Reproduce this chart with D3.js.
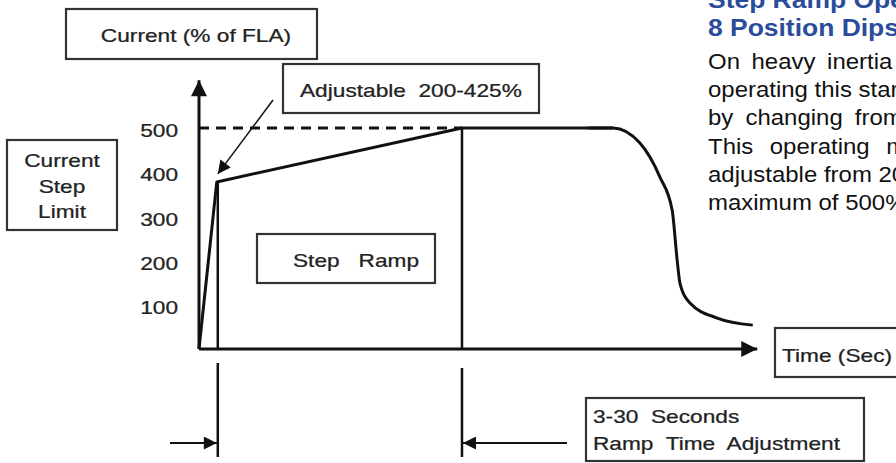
<!DOCTYPE html>
<meta charset="utf-8">
<script src="https://d3js.org/d3.v7.min.js"></script>
<style>
  body { margin: 0; background: #fff; }
  text { font-family: "Liberation Sans", Arial, sans-serif; white-space: pre; }
</style>
<div id="chart"></div>
<script>
// current profile, time in % of the plotted span, current in % of FLA
const riseTime = [0, 3.2, 47.3, 74.5];
const riseCurrent = [0, 378, 500, 500];
const decayTime = [70, 74.5, 79.3, 82.9, 85.1, 86.0, 86.5, 88.3, 93.2, 99.6];
const decayCurrent = [500, 500, 466, 389, 314, 201, 149, 104, 70, 54];
const yTicks = [100, 200, 300, 400, 500];
const stepTime = 3.2, rampEnd = 47.3, limitValue = 500;

const bodyLines = [
  "On heavy inertia",
  "operating this starter in Step Ramp",
  "by changing from the standard",
  "This operating mode is",
  "adjustable from 200 to 425%",
  "maximum of 500%"
];
const bodySpacing = [4.5, 0, 5, 9, 0, 0];

const W = 896, H = 463;
const svg = d3.select("#chart").append("svg")
  .attr("width", W).attr("height", H);

const x = d3.scaleLinear().domain([0, 100]).range([199, 755]);
const y = d3.scaleLinear().domain([0, 500]).range([349, 128]);

const sx = 1.26; // chart lettering is drawn wide
const ink = "#111";

const defs = svg.append("defs");
defs.append("marker").attr("id", "head")
  .attr("viewBox", "0 0 10 10").attr("refX", 10).attr("refY", 5)
  .attr("markerWidth", 20).attr("markerHeight", 16)
  .attr("markerUnits", "userSpaceOnUse").attr("orient", "auto")
  .append("path").attr("d", "M0,0L10,5L0,10Z").attr("fill", ink);
defs.append("marker").attr("id", "small")
  .attr("viewBox", "0 0 10 10").attr("refX", 10).attr("refY", 5)
  .attr("markerWidth", 16).attr("markerHeight", 13)
  .attr("markerUnits", "userSpaceOnUse").attr("orient", "auto")
  .append("path").attr("d", "M0,0L10,5L0,10Z").attr("fill", ink);

function label(px, py, str, anchor) {
  return svg.append("text")
    .attr("transform", `translate(${px},${py}) scale(${sx},1)`)
    .attr("text-anchor", anchor || "start")
    .style("font-size", "18px").attr("fill", "#222")
    .attr("stroke", "#222").attr("stroke-width", 0.25)
    .text(str);
}
function box(x0, y0, x1, y1) {
  svg.append("rect").attr("x", x0).attr("y", y0)
    .attr("width", x1 - x0).attr("height", y1 - y0)
    .attr("fill", "#fff").attr("stroke", "#333").attr("stroke-width", 2.2);
}

// axes with arrow heads
svg.append("line")
  .attr("x1", x(0)).attr("y1", y(0)).attr("x2", x(0)).attr("y2", y(608))
  .attr("stroke", ink).attr("stroke-width", 3).attr("marker-end", "url(#head)");
svg.append("line")
  .attr("x1", x(0)).attr("y1", y(0)).attr("x2", x(100.4)).attr("y2", y(0))
  .attr("stroke", ink).attr("stroke-width", 3).attr("marker-end", "url(#head)");

// y tick labels
const yAxis = svg.append("g").attr("transform", `translate(${x(0)},0)`)
  .call(d3.axisLeft(y).tickValues(yTicks).tickSize(0));
yAxis.select(".domain").remove();
yAxis.selectAll("text")
  .attr("x", 0).attr("dy", "0.48em")
  .attr("transform", `translate(-21,0) scale(${sx},1)`)
  .style("font-size", "18px").style("font-family", "Liberation Sans, Arial, sans-serif")
  .attr("fill", "#222").attr("stroke", "#222").attr("stroke-width", 0.25);

// dashed limit line
svg.append("line")
  .attr("x1", x(0)).attr("x2", x(rampEnd)).attr("y1", y(limitValue)).attr("y2", y(limitValue))
  .attr("stroke", ink).attr("stroke-width", 3).attr("stroke-dasharray", "10,7");

// step and ramp-end verticals
svg.append("line")
  .attr("x1", x(stepTime) + 1).attr("x2", x(stepTime) + 1).attr("y1", y(0)).attr("y2", y(riseCurrent[1]))
  .attr("stroke", ink).attr("stroke-width", 2.5);
svg.append("line")
  .attr("x1", x(rampEnd)).attr("x2", x(rampEnd)).attr("y1", y(0)).attr("y2", y(limitValue))
  .attr("stroke", ink).attr("stroke-width", 2.5);

// current curve
svg.append("path")
  .datum(riseTime.map((t, i) => [t, riseCurrent[i]]))
  .attr("d", d3.line().x(d => x(d[0])).y(d => y(d[1])))
  .attr("fill", "none").attr("stroke", ink)
  .attr("stroke-width", 3).attr("stroke-linejoin", "round");
svg.append("path")
  .datum(decayTime.map((t, i) => [t, decayCurrent[i]]))
  .attr("d", d3.line().x(d => x(d[0])).y(d => y(d[1])).curve(d3.curveMonotoneX))
  .attr("fill", "none").attr("stroke", ink).attr("stroke-width", 3);

// timing marks below the axis
svg.append("line").attr("x1", x(stepTime) + 1).attr("x2", x(stepTime) + 1)
  .attr("y1", 363).attr("y2", 457).attr("stroke", ink).attr("stroke-width", 2.5);
svg.append("line").attr("x1", x(rampEnd)).attr("x2", x(rampEnd))
  .attr("y1", 368).attr("y2", 457).attr("stroke", ink).attr("stroke-width", 2.5);
svg.append("line").attr("x1", 170).attr("x2", x(stepTime)).attr("y1", 443).attr("y2", 443)
  .attr("stroke", ink).attr("stroke-width", 2).attr("marker-end", "url(#small)");
svg.append("line").attr("x1", 567).attr("x2", x(rampEnd) + 1).attr("y1", 443).attr("y2", 443)
  .attr("stroke", ink).attr("stroke-width", 2).attr("marker-end", "url(#small)");

// pointer to the step level
svg.append("line").attr("x1", 273).attr("y1", 100).attr("x2", x(stepTime) + 1).attr("y2", y(riseCurrent[1]) - 8)
  .attr("stroke", ink).attr("stroke-width", 1.5).attr("marker-end", "url(#small)");

// boxed labels
box(66, 9, 317, 59);
label(196, 42, "Current (% of FLA)", "middle");
box(283, 64, 539, 113);
label(300, 97, "Adjustable  200-425%");
box(7, 140, 117, 230);
label(62, 167, "Current", "middle");
label(62, 193, "Step", "middle");
label(62, 218, "Limit", "middle");
box(257, 234, 435, 283);
label(293, 267, "Step   Ramp");
box(775, 328, 910, 377);
label(782, 362, "Time (Sec)");
box(586, 398, 864, 461);
label(593, 423, "3-30  Seconds");
label(593, 450, "Ramp  Time  Adjustment");

// side text
const side = svg.append("g").attr("transform", "translate(708,0)");
side.append("text").attr("transform", "translate(0,8) scale(1.15,1)").attr("fill", "#2b4b9b")
  .style("font-size", "23px").style("font-weight", "bold").text("Step Ramp Operation");
side.append("text").attr("transform", "translate(0,36) scale(1.15,1)").attr("fill", "#2b4b9b")
  .style("font-size", "23px").style("font-weight", "bold").text("8 Position Dipswitch");
side.selectAll("text.body").data(bodyLines).join("text")
  .attr("class", "body")
  .attr("transform", (d, i) => `translate(0,${69 + i * 28.2}) scale(1.09,1)`)
  .style("font-size", "22px").style("word-spacing", (d, i) => bodySpacing[i] + "px")
  .attr("fill", "#111")
  .text(d => d);
</script>
